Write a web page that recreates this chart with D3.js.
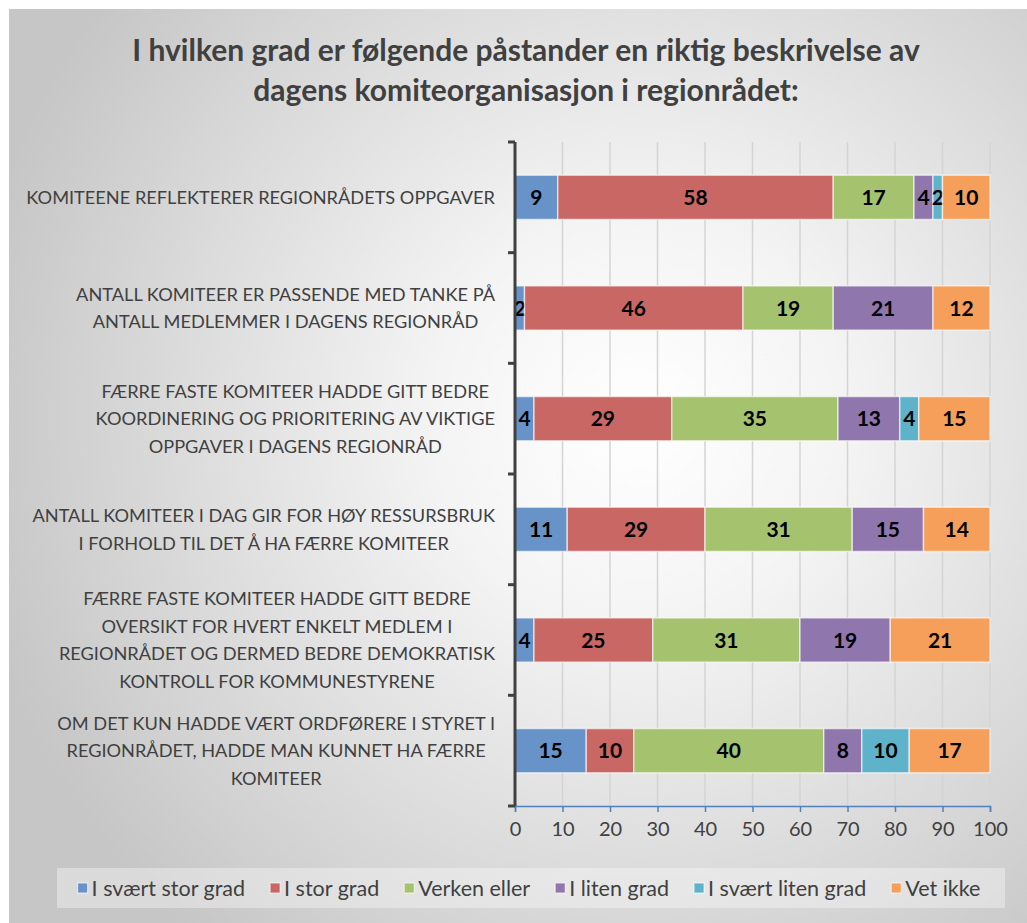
<!DOCTYPE html>
<html>
<head>
<meta charset="utf-8">
<script src="https://cdn.jsdelivr.net/npm/d3@7"></script>
<style>
  body { margin: 0; background: #fff; }
  svg text { font-family: Lato, "Open Sans", sans-serif; }
</style>
</head>
<body>
<div id="chart"></div>
<script>
// data
const categories = [
  ["KOMITEENE REFLEKTERER REGIONRÅDETS OPPGAVER"],
  ["ANTALL KOMITEER ER PASSENDE MED TANKE PÅ", "ANTALL MEDLEMMER I DAGENS REGIONRÅD"],
  ["FÆRRE FASTE KOMITEER HADDE GITT BEDRE", "KOORDINERING OG PRIORITERING AV VIKTIGE", "OPPGAVER I DAGENS REGIONRÅD"],
  ["ANTALL KOMITEER I DAG GIR FOR HØY RESSURSBRUK", "I FORHOLD TIL DET Å HA FÆRRE KOMITEER"],
  ["FÆRRE FASTE KOMITEER HADDE GITT BEDRE", "OVERSIKT FOR HVERT ENKELT MEDLEM I", "REGIONRÅDET OG DERMED BEDRE DEMOKRATISK", "KONTROLL FOR KOMMUNESTYRENE"],
  ["OM DET KUN HADDE VÆRT ORDFØRERE I STYRET I", "REGIONRÅDET, HADDE MAN KUNNET HA FÆRRE", "KOMITEER"]
];
const seriesNames = ["I svært stor grad", "I stor grad", "Verken eller", "I liten grad", "I svært liten grad", "Vet ikke"];
const sværtStor  = [9, 2, 4, 11, 4, 15];
const stor       = [58, 46, 29, 29, 25, 10];
const verken     = [17, 19, 35, 31, 31, 40];
const liten      = [4, 21, 13, 15, 19, 8];
const sværtLiten = [2, 0, 4, 0, 0, 10];
const vetIkke    = [10, 12, 15, 14, 21, 17];
const xTicks = [0, 10, 20, 30, 40, 50, 60, 70, 80, 90, 100];
const colors = ["#6793c8", "#c96765", "#a5c26e", "#8f76ad", "#5eb3cb", "#f59f5a"];
const titleLines = ["I hvilken grad er følgende påstander en riktig beskrivelse av",
                    "dagens komiteorganisasjon i regionrådet:"];

const width = 1027, height = 923;
const margin = {top: 142, right: 37, bottom: 117, left: 515};

const values = [sværtStor, stor, verken, liten, sværtLiten, vetIkke];
const rows = categories.map((c, i) => {
  const r = {i};
  seriesNames.forEach((s, k) => r[s] = values[k][i]);
  return r;
});
const stacked = d3.stack().keys(seriesNames)(rows);

const x = d3.scaleLinear().domain([0, 100]).range([margin.left, width - margin.right]);
const y = d3.scaleBand().domain(d3.range(categories.length))
  .range([margin.top, height - margin.bottom]).paddingInner(0.6).paddingOuter(0.3);

const svg = d3.select("#chart").append("svg")
  .attr("width", width).attr("height", height);

// background
const grad = svg.append("defs").append("radialGradient")
  .attr("id", "bg").attr("gradientUnits", "userSpaceOnUse")
  .attr("cx", 640).attr("cy", 420).attr("r", 680);
grad.append("stop").attr("offset", "0%").attr("stop-color", "#ffffff");
grad.append("stop").attr("offset", "30%").attr("stop-color", "#f4f4f4");
grad.append("stop").attr("offset", "100%").attr("stop-color", "#c6c6c6");
svg.append("rect").attr("width", width).attr("height", height).attr("fill", "#fff");
svg.append("rect").attr("x", 9).attr("y", 9).attr("width", width - 9).attr("height", height - 9)
  .attr("fill", "url(#bg)");

// title
svg.append("g").selectAll("text").data(titleLines).join("text")
  .attr("x", 526).attr("y", (d, i) => 61 + i * 40)
  .attr("text-anchor", "middle")
  .attr("font-size", 30).attr("font-weight", "bold").attr("fill", "#404040")
  .text(d => d);

// gridlines
svg.append("g").selectAll("line").data(xTicks.slice(1)).join("line")
  .attr("x1", d => x(d)).attr("x2", d => x(d))
  .attr("y1", margin.top).attr("y2", height - margin.bottom)
  .attr("stroke", "#d4d4d4").attr("stroke-width", 1.5);

// bars
const layer = svg.append("g").selectAll("g").data(stacked).join("g")
  .attr("fill", (d, k) => colors[k]);
layer.selectAll("rect").data(d => d).join("rect")
  .attr("x", d => x(d[0])).attr("y", (d, i) => y(i))
  .attr("width", d => x(d[1]) - x(d[0])).attr("height", y.bandwidth())
  .attr("stroke", "rgba(255,255,255,0.6)").attr("stroke-width", 1.5);
layer.selectAll("text").data(d => d.filter(v => v[1] - v[0] > 0).map(v => ({v, i: v.data.i})))
  .join("text")
  .attr("x", d => (x(d.v[0]) + x(d.v[1])) / 2)
  .attr("y", d => y(d.i) + y.bandwidth() / 2)
  .attr("dy", "0.36em").attr("text-anchor", "middle")
  .attr("font-size", 21).attr("font-weight", "bold").attr("fill", "#000")
  .text(d => d.v[1] - d.v[0]);

// x axis
const xAxis = svg.append("g")
  .attr("transform", `translate(0,${height - margin.bottom})`)
  .call(d3.axisBottom(x).tickValues(xTicks).tickSize(6).tickSizeOuter(6).tickPadding(10));
xAxis.select(".domain").attr("stroke", "#4f81bd").attr("stroke-width", 1.5);
xAxis.selectAll(".tick line").attr("stroke", "#4f81bd").attr("stroke-width", 1.5);
xAxis.selectAll(".tick text").attr("font-size", 20).attr("fill", "#404040")
  .attr("font-family", "Lato, sans-serif");

// y axis line with category boundary ticks
const bounds = d3.range(categories.length + 1).map(i => margin.top + i * (height - margin.bottom - margin.top) / categories.length);
svg.append("line").attr("x1", margin.left).attr("x2", margin.left)
  .attr("y1", margin.top).attr("y2", height - margin.bottom)
  .attr("stroke", "#404040").attr("stroke-width", 3);
svg.append("g").selectAll("line").data(bounds).join("line")
  .attr("x1", margin.left - 7).attr("x2", margin.left)
  .attr("y1", d => d).attr("y2", d => d)
  .attr("stroke", "#404040").attr("stroke-width", 3);

// category labels: block right aligned, lines centered in block
const lineH = 27.5;
categories.forEach((lines, i) => {
  const g = svg.append("g");
  const cy = y(i) + y.bandwidth() / 2;
  const t = g.selectAll("text").data(lines).join("text")
    .attr("y", (d, j) => cy + (j - (lines.length - 1) / 2) * lineH)
    .attr("dy", "0.36em").attr("text-anchor", "middle")
    .attr("font-size", 18.2).attr("fill", "#404040")
    .text(d => d);
  const maxW = d3.max(t.nodes(), n => n.getComputedTextLength());
  t.attr("x", 495 - maxW / 2);
});

// legend
const lg = svg.append("g");
lg.append("rect").attr("x", 57).attr("y", 868).attr("width", 948).attr("height", 40)
  .attr("fill", "rgba(255,255,255,0.35)");
const items = lg.selectAll("g").data(seriesNames).join("g");
items.append("rect").attr("width", 10).attr("height", 10).attr("y", 883)
  .attr("fill", (d, k) => colors[k]).attr("stroke", "rgba(255,255,255,0.7)");
items.append("text").attr("x", 14).attr("y", 888).attr("dy", "0.36em")
  .attr("font-size", 21.5).attr("fill", "#404040").text(d => d);
const widths = items.nodes().map(n => d3.select(n).select("text").node().getComputedTextLength() + 14);
const gap = 25;
const total = d3.sum(widths) + gap * (widths.length - 1);
let cx = 529 - total / 2;
items.each(function(d, k) {
  d3.select(this).attr("transform", `translate(${cx},0)`);
  cx += widths[k] + gap;
});
</script>
</body>
</html>
